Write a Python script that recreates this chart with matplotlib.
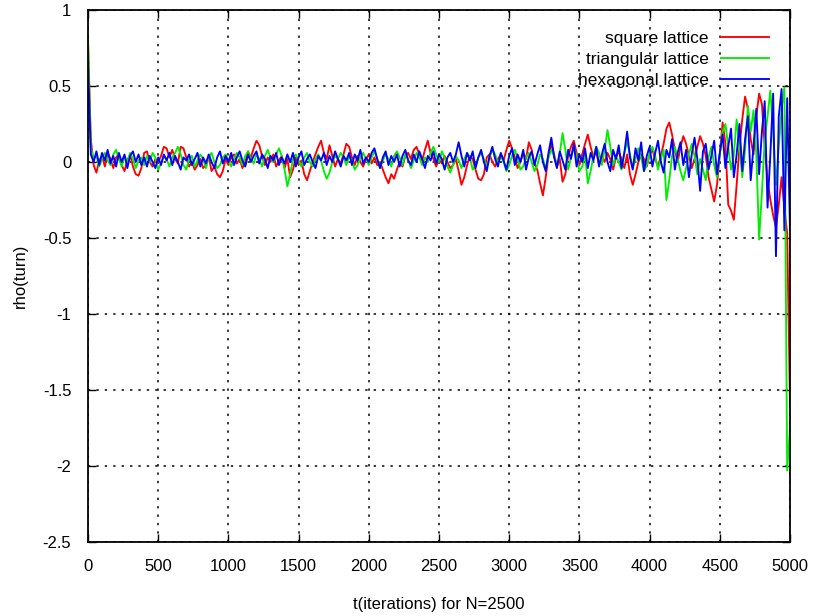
import numpy as np
import matplotlib
matplotlib.use('Agg')
import matplotlib.pyplot as plt

plt.rcParams['font.family'] = ['Liberation Sans', 'DejaVu Sans']

# values, one every 20 iterations (0..5000)
t = np.arange(0, 5001, 20)

square = [
    0.80, 0.15, -0.02, -0.07, 0.01, 0.04, -0.03, 0.06, 0.02, -0.04,
    0.03, 0.05, -0.02, -0.06, 0.01, 0.05, -0.03, -0.08, -0.09, -0.04,
    0.06, 0.07, 0.00, -0.03, 0.02, 0.00, 0.04, 0.10, 0.09, 0.03,
    0.08, 0.02, -0.01, 0.10, 0.09, 0.03, -0.03, 0.00, -0.05, -0.02,
    0.02, -0.04, -0.02, 0.04, -0.06, -0.03, -0.08, -0.10, -0.06, 0.02,
    -0.02, 0.03, 0.05, -0.01, 0.02, -0.04, 0.00, 0.07, 0.03, 0.09,
    0.14, 0.11, 0.04, -0.02, 0.03, 0.00, 0.05, -0.03, 0.01, 0.04,
    -0.04, 0.02, -0.10, -0.05, 0.03, -0.02, 0.01, -0.08, -0.12, -0.06,
    0.00, 0.05, 0.10, 0.14, 0.06, 0.02, 0.11, 0.04, -0.03, 0.02,
    -0.01, 0.05, 0.12, 0.10, 0.03, -0.02, 0.04, 0.00, -0.03, 0.02,
    0.05, -0.01, 0.03, -0.02, 0.00, -0.05, -0.10, -0.14, -0.08, -0.11,
    -0.05, 0.00, -0.03, 0.04, 0.06, 0.02, 0.08, 0.10, 0.05, 0.01,
    0.08, 0.14, 0.06, 0.02, -0.03, 0.02, -0.01, 0.04, 0.00, -0.04,
    -0.02, 0.02, -0.06, -0.15, -0.10, -0.02, 0.04, 0.02, -0.05, -0.11,
    -0.12, -0.08, 0.03, 0.05, 0.00, -0.03, 0.02, 0.05, 0.01, 0.08,
    0.14, 0.09, 0.03, -0.04, 0.00, 0.06, 0.02, 0.13, 0.08, -0.01,
    -0.05, -0.14, -0.22, -0.10, 0.04, 0.12, 0.05, -0.03, 0.02, -0.13,
    -0.08, 0.04, 0.10, 0.14, 0.06, -0.02, 0.05, 0.12, 0.18, 0.10,
    0.03, 0.07, -0.02, 0.04, 0.00, 0.06, 0.02, -0.05, 0.03, 0.07,
    0.02, -0.04, 0.05, -0.08, -0.15, -0.08, 0.00, 0.05, 0.02, -0.03,
    0.05, 0.08, 0.02, -0.03, 0.04, 0.12, 0.22, 0.26, 0.18, 0.08,
    0.00, 0.10, 0.17, 0.12, 0.04, -0.04, 0.02, 0.10, 0.17, 0.12,
    0.04, -0.10, -0.18, -0.26, -0.15, 0.05, 0.26, 0.12, -0.28, -0.32,
    -0.38, -0.15, 0.10, 0.28, 0.43, 0.35, 0.15, 0.05, 0.30, 0.45,
    0.38, 0.10, -0.12, -0.25, -0.35, -0.43, -0.28, -0.10, -0.30, -0.47,
    -1.60,
]

triangular = [
    0.80, 0.10, 0.02, 0.04, -0.03, 0.02, 0.06, 0.01, -0.02, 0.05,
    0.08, 0.02, -0.03, 0.04, 0.00, 0.06, 0.02, -0.04, 0.01, 0.03,
    -0.02, 0.04, 0.00, 0.06, 0.03, -0.05, -0.01, 0.04, 0.02, -0.03,
    0.03, 0.06, 0.10, 0.05, -0.02, -0.05, 0.02, 0.04, -0.03, 0.01,
    0.05, 0.02, -0.04, 0.03, 0.06, 0.00, -0.04, -0.02, 0.03, 0.05,
    0.01, -0.03, 0.02, 0.06, 0.03, -0.02, 0.04, 0.07, 0.02, -0.01,
    0.05, 0.02, -0.03, 0.04, 0.08, 0.03, 0.00, 0.05, 0.09, 0.04,
    -0.05, -0.16, -0.08, 0.02, 0.05, 0.01, -0.03, 0.03, 0.06, 0.00,
    -0.03, 0.02, 0.05, 0.01, -0.06, -0.11, -0.07, 0.00, 0.04, 0.02,
    0.06, 0.03, -0.02, 0.04, 0.01, -0.05, -0.02, 0.03, 0.06, 0.02,
    -0.02, 0.03, 0.07, 0.02, -0.04, 0.01, 0.05, 0.02, -0.03, 0.04,
    0.07, 0.03, -0.02, 0.05, 0.02, -0.04, 0.01, 0.06, 0.03, -0.02,
    0.03, 0.00, 0.06, 0.10, 0.05, 0.00, 0.07, 0.03, -0.03, -0.07,
    -0.02, 0.04, 0.01, -0.04, 0.02, 0.06, 0.03, -0.05, -0.02, 0.03,
    0.06, 0.02, -0.04, 0.03, 0.08, 0.05, -0.01, 0.04, 0.00, -0.06,
    -0.02, 0.04, 0.08, 0.02, -0.05, -0.03, 0.03, 0.06, 0.00, -0.06,
    -0.02, 0.05, 0.02, -0.04, 0.03, 0.08, 0.04, -0.03, 0.05, 0.19,
    0.08, -0.05, 0.03, 0.10, 0.04, -0.06, -0.03, 0.05, -0.14, -0.06,
    0.04, 0.10, 0.06, -0.02, 0.08, 0.21, 0.10, -0.02, 0.04, 0.00,
    -0.05, 0.06, 0.13, 0.05, -0.04, 0.02, 0.09, 0.03, -0.06, -0.02,
    0.05, 0.10, 0.04, -0.05, 0.02, 0.08, -0.25, -0.12, 0.04, 0.10,
    0.02, -0.06, -0.12, -0.04, 0.05, 0.12, 0.04, -0.08, 0.02, -0.05,
    -0.12, 0.03, 0.10, -0.02, -0.10, 0.05, 0.20, 0.25, 0.10, -0.05,
    0.05, 0.28, 0.10, -0.10, 0.08, 0.37, 0.20, 0.34, 0.05, -0.51,
    -0.20, 0.15, 0.30, 0.47, 0.20, -0.15, 0.10, 0.35, 0.49, -2.03,
    -1.75,
]

hexagonal = [
    0.65, 0.05, 0.00, 0.07, -0.02, 0.06, 0.01, 0.08, -0.01, 0.04,
    -0.03, 0.06, 0.00, 0.05, -0.04, 0.04, 0.07, 0.00, 0.05, -0.02,
    0.03, -0.03, 0.04, 0.00, -0.04, 0.03, -0.02, 0.05, 0.01, 0.06,
    -0.02, 0.04, 0.00, -0.05, 0.03, 0.01, 0.05, -0.02, 0.02, 0.06,
    -0.03, 0.03, -0.01, 0.05, 0.00, -0.04, 0.03, 0.07, -0.01, 0.04,
    0.00, 0.06, -0.02, 0.03, 0.07, 0.01, -0.03, 0.05, 0.00, 0.04,
    0.07, -0.01, 0.05, 0.02, -0.04, 0.04, 0.01, 0.06, -0.02, 0.03,
    -0.01, 0.05, 0.00, 0.06, -0.03, 0.03, 0.07, -0.02, 0.02, 0.05,
    0.00, -0.04, 0.04, 0.01, 0.06, -0.02, 0.04, 0.00, 0.07, 0.02,
    -0.03, 0.04, 0.01, 0.06, -0.02, 0.05, 0.01, 0.08, -0.01, 0.03,
    0.00, 0.06, 0.09, 0.02, -0.04, 0.03, 0.07, -0.02, 0.04, 0.00,
    0.05, -0.03, 0.04, 0.08, 0.01, -0.02, 0.05, 0.00, 0.07, 0.02,
    -0.04, 0.04, 0.01, 0.07, -0.01, 0.05, 0.02, -0.05, 0.03, 0.06,
    0.00, 0.05, 0.13, 0.04, -0.03, 0.06, 0.01, 0.07, -0.04, 0.03,
    0.08, 0.00, -0.06, 0.04, 0.10, 0.02, -0.03, 0.06, 0.01, -0.05,
    0.04, 0.09, -0.02, 0.05, 0.00, 0.08, -0.05, 0.03, 0.07, -0.02,
    0.05, 0.11, 0.00, -0.06, 0.06, 0.16, 0.03, -0.04, 0.07, 0.01,
    -0.05, 0.08, 0.02, 0.12, -0.03, 0.05, 0.00, 0.09, -0.04, 0.06,
    0.01, 0.10, -0.03, 0.05, 0.12, 0.00, -0.06, 0.08, 0.02, 0.11,
    -0.04, 0.06, 0.20, 0.03, -0.05, 0.09, 0.01, 0.13, -0.06, 0.04,
    0.10, -0.03, 0.06, 0.14, 0.00, -0.07, 0.08, 0.03, 0.15, -0.05,
    0.06, 0.13, -0.02, 0.08, -0.10, 0.05, 0.16, 0.02, -0.19, 0.07,
    0.12, -0.05, 0.04, 0.14, -0.08, 0.06, 0.18, -0.04, 0.10, 0.22,
    -0.10, 0.05, 0.25, -0.06, 0.15, 0.30, -0.12, 0.10, 0.35, -0.08,
    0.20, 0.40, -0.30, 0.05, 0.45, -0.62, 0.30, 0.48, -0.45, 0.42,
    -0.45,
]

labels = ['square lattice', 'triangular lattice', 'hexagonal lattice']
colors = ['#ff0000', '#00ee00', '#0000ff']

fig = plt.figure(figsize=(8.13, 6.16), dpi=100)
ax = fig.add_axes([88 / 813, 74 / 616, 702 / 813, 532 / 616])

for series, lab, col in zip([square, triangular, hexagonal], labels, colors):
    ax.plot(t, series, color=col, linewidth=1.35, label=lab)

ax.set_xlim(0, 5000)
ax.set_ylim(-2.5, 1)
ax.set_xticks(np.arange(0, 5001, 500))
ax.set_yticks(np.arange(-2.5, 1.01, 0.5))
ax.set_yticklabels(['-2.5', '-2', '-1.5', '-1', '-0.5', '0', '0.5', '1'])

# gnuplot look: dotted grid, inward ticks on every side
ax.grid(True, color='black', linestyle=(0, (1.5, 4)), linewidth=1.1)
ax.tick_params(direction='in', top=True, right=True, length=6, width=1,
               labelsize=12)
ax.tick_params(axis='x', pad=12)
ax.tick_params(axis='y', pad=12)
for sp in ax.spines.values():
    sp.set_linewidth(1.3)

ax.set_xlabel('t(iterations) for N=2500', fontsize=12)
ax.set_ylabel('rho(turn)', fontsize=12)
ax.xaxis.set_label_coords(0.5, -0.103)
ax.yaxis.set_label_coords(-0.085, 0.5)

ax.legend(loc='upper right', markerfirst=False, frameon=False, fontsize=12.5,
          handlelength=2.8, handletextpad=0.7, labelspacing=0.35,
          borderaxespad=0.8, borderpad=0.4)

plt.savefig('out.png', dpi=100)
